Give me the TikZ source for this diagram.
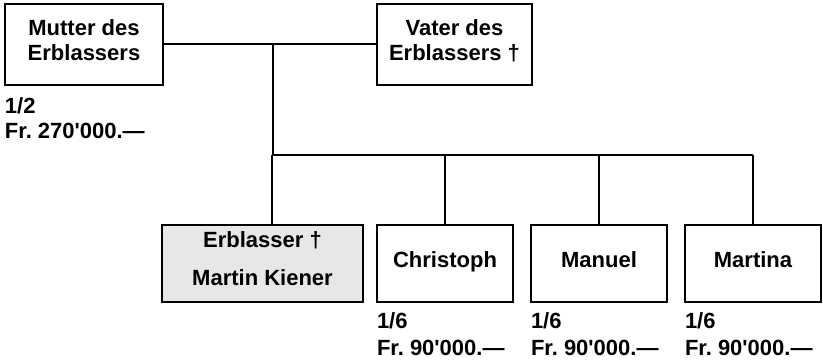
\documentclass[tikz,border=0pt]{standalone}
\usepackage{fontspec}
\newfontfamily\arialfont{Liberation Sans}
\usepackage{tikz}
\definecolor{erblgray}{RGB}{230,231,233}
\frenchspacing

\begin{document}
\begin{tikzpicture}[x=1pt, y=-1pt, line width=1.2pt,
 every node/.style={font=\arialfont\bfseries\fontsize{22}{25}\selectfont},
 person/.style={draw, align=center, minimum height=81pt, inner sep=0pt, text depth=8pt},
 kind/.style={person, minimum width=136pt, minimum height=77pt, text height=16pt, text depth=9pt},
 share/.style={align=left, anchor=north west, inner sep=0pt}]
\useasboundingbox (0,0) rectangle (823,360);
\node[person, minimum width=158pt] (mutter) at (84,44.5) {Mutter des\\Erblassers};
\node[person, minimum width=155pt] (vater) at (454.5,44.5) {Vater des\\Erblassers †};
\node[person, minimum width=201pt, minimum height=77pt, fill=erblgray, text depth=10pt] (erblasser) at (262.5,263.5) {Erblasser †\\[13pt]Martin Kiener};
\node[kind] (christoph) at (445,263.5) {Christoph};
\node[kind] (manuel) at (599,263.5) {Manuel};
\node[kind] (martina) at (753,263.5) {Martina};

\node[share] (mutteranteil) at (mutter.south west |- 0,97) {1/2\\Fr. 270'000.—};
\foreach \k in {christoph,manuel,martina}
 \node[share] (\k anteil) at (\k.south west |- 0,312) {1/6\\[2pt]Fr. 90'000.—};

\coordinate (ehe) at (273,44);
\coordinate (linie) at (273,155);
\draw (mutter.east |- ehe) -- (vater.west |- ehe);
\draw (ehe) -- (linie) -- (linie -| martina.north);
\draw (linie -| 272,0) -- (erblasser.north -| 272,0);
\foreach \k in {christoph,manuel,martina}
 \draw (\k.north) -- (\k.north |- linie);
\end{tikzpicture}
\end{document}
